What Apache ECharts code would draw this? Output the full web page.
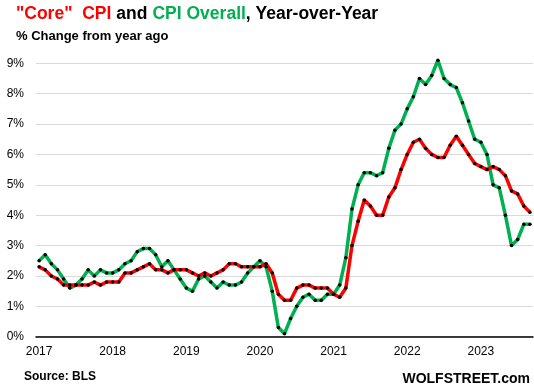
<!DOCTYPE html>
<html><head><meta charset="utf-8">
<script src="https://cdn.jsdelivr.net/npm/echarts@6/dist/echarts.min.js"></script>
<style>html,body{margin:0;padding:0;background:#fff}#c{width:534px;height:391px}</style>
</head><body><div id="c"></div>
<script>
var years = ['2017','2018','2019','2020','2021','2022','2023'];
var monthsInLastYear = 9;
// CPI overall, YoY %, Jan 2017 - Sep 2023
var cpiOverall = [
  2.5,2.7,2.4,2.2,1.9,1.6,1.7,1.9,2.2,2.0,2.2,2.1,
  2.1,2.2,2.4,2.5,2.8,2.9,2.9,2.7,2.3,2.5,2.2,1.9,
  1.6,1.5,1.9,2.0,1.8,1.6,1.8,1.7,1.7,1.8,2.1,2.3,
  2.5,2.3,1.5,0.3,0.1,0.6,1.0,1.3,1.4,1.2,1.2,1.4,
  1.4,1.7,2.6,4.2,5.0,5.4,5.4,5.3,5.4,6.2,6.8,7.0,
  7.5,7.9,8.5,8.3,8.6,9.1,8.5,8.3,8.2,7.7,7.1,6.5,
  6.4,6.0,5.0,4.9,4.0,3.0,3.2,3.7,3.7
];
// Core CPI, YoY %
var coreCpi = [
  2.3,2.2,2.0,1.9,1.7,1.7,1.7,1.7,1.7,1.8,1.7,1.8,
  1.8,1.8,2.1,2.1,2.2,2.3,2.4,2.2,2.2,2.1,2.2,2.2,
  2.2,2.1,2.0,2.1,2.0,2.1,2.2,2.4,2.4,2.3,2.3,2.3,
  2.3,2.4,2.1,1.4,1.2,1.2,1.6,1.7,1.7,1.6,1.6,1.6,
  1.4,1.3,1.6,3.0,3.8,4.5,4.3,4.0,4.0,4.6,4.9,5.5,
  6.0,6.4,6.5,6.2,6.0,5.9,5.9,6.3,6.6,6.3,6.0,5.7,
  5.6,5.5,5.6,5.5,5.3,4.8,4.7,4.3,4.1
];
var yTicks = [0,1,2,3,4,5,6,7,8,9];

var categories = [];
years.forEach(function(y, i){
  var n = (i === years.length - 1) ? monthsInLastYear : 12;
  for (var m = 1; m <= n; m++) categories.push(y + '-' + (m < 10 ? '0' + m : m));
});

var chart = echarts.init(document.getElementById('c'), null, {renderer:'canvas'});
var FONT = '"Liberation Sans", Arial, sans-serif';
chart.setOption({
  animation:false,
  backgroundColor:'#fff',
  title:[{
    left:16, top:5, padding:0,
    text:'{r|"Core"  CPI} {k|and} {g|CPI Overall}{k|, Year-over-Year}',
    textStyle:{
      rich:{
        r:{color:'#ff0000', fontSize:17.5, fontWeight:'bold', fontFamily:FONT},
        g:{color:'#00b050', fontSize:17.5, fontWeight:'bold', fontFamily:FONT},
        k:{color:'#000000', fontSize:17.5, fontWeight:'bold', fontFamily:FONT}
      }
    }
  },{
    left:16, top:30, padding:0,
    text:'% Change from year ago',
    textStyle:{color:'#000', fontSize:13, fontWeight:'bold', fontFamily:FONT}
  },{
    left:24, top:371, padding:0,
    text:'Source: BLS',
    textStyle:{color:'#000', fontSize:12, fontWeight:'bold', fontFamily:FONT}
  },{
    right:4, top:372, padding:0,
    text:'WOLFSTREET.com',
    textStyle:{color:'#000', fontSize:14, fontWeight:'bold', fontFamily:FONT}
  }],
  grid:{left:36, right:1, top:63.3, bottom:54.3},
  xAxis:{
    type:'category',
    data:categories,
    boundaryGap:true,
    axisLine:{lineStyle:{color:'#000', width:1.5}},
    axisTick:{interval:11, length:6, lineStyle:{color:'#000', width:1.5}},
    axisLabel:{
      interval:11, color:'#000', fontSize:12, fontFamily:FONT, margin:9,
      formatter:function(v){ return v.slice(0,4); }
    },
    splitLine:{show:false}
  },
  yAxis:{
    type:'value', min:yTicks[0], max:yTicks[yTicks.length-1], interval:1,
    axisLine:{show:false}, axisTick:{show:false},
    axisLabel:{color:'#000', fontSize:12, fontFamily:FONT, margin:12,
      formatter:function(v){ return v + '%'; }},
    splitLine:{lineStyle:{color:'#d9d9d9', width:1}}
  },
  series:[{
    name:'CPI Overall', type:'line', data:cpiOverall, clip:false,
    lineStyle:{color:'#00b050', width:3.5},
    symbol:'circle', symbolSize:3.5, showSymbol:true,
    itemStyle:{color:'#000', borderWidth:0}
  },{
    name:'Core CPI', type:'line', data:coreCpi, clip:false,
    lineStyle:{color:'#ff0000', width:3.5},
    symbol:'circle', symbolSize:3.5, showSymbol:true,
    itemStyle:{color:'#000', borderWidth:0}
  }]
});
</script></body></html>
